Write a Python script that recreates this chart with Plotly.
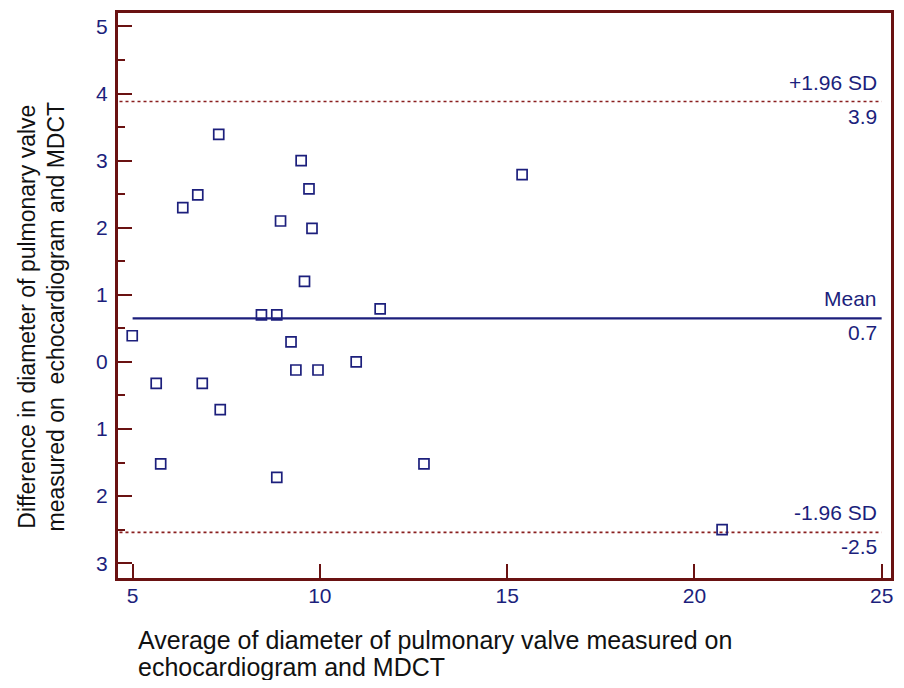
import plotly.graph_objects as go

# Data (Bland-Altman plot)
avg_diameter = [4.99, 5.63, 5.75, 6.34, 6.74, 6.86, 7.30, 7.34, 8.44, 8.85, 8.85, 8.95,
                9.23, 9.36, 9.50, 9.59, 9.71, 9.79, 9.95, 10.97, 11.61, 12.78, 15.40, 20.74]
diff_diameter = [0.39, -0.32, -1.52, 2.30, 2.49, -0.32, 3.39, -0.71, 0.70, 0.70, -1.72, 2.10,
                 0.30, -0.12, 3.00, 1.20, 2.58, 1.99, -0.12, 0.00, 0.79, -1.52, 2.79, -2.50]

mean_diff = 0.65
upper_loa = 3.88
lower_loa = -2.54
line_labels = ["+1.96 SD", "Mean", "-1.96 SD"]
value_labels = ["3.9", "0.7", "-2.5"]

x_ticks = [5, 10, 15, 20, 25]
y_ticks = [-3, -2, -1, 0, 1, 2, 3, 4, 5]
y_ticktext = ["3", "2", "1", "0", "1", "2", "3", "4", "5"]

x_title_lines = ["Average of diameter of pulmonary valve measured on",
                 "echocardiogram and MDCT"]
y_title = "Difference in diameter of pulmonary valve<br>measured on \u00a0echocardiogram and MDCT"

FRAME = "#6a1212"
NAVY = "#1c1f7c"
DASH = "#8a1f1f"
FONT = "Liberation Sans, Arial, sans-serif"

fig = go.Figure()

# limits of agreement (dotted)
for val in [upper_loa, lower_loa]:
    fig.add_trace(go.Scatter(x=[4.65, 25], y=[val, val], mode="lines",
                             line=dict(color=DASH, width=1.6, dash="dot"),
                             hoverinfo="skip", showlegend=False))
# mean line
fig.add_trace(go.Scatter(x=[5, 25], y=[mean_diff, mean_diff], mode="lines",
                         line=dict(color=NAVY, width=2.2),
                         hoverinfo="skip", showlegend=False))
# points
fig.add_trace(go.Scatter(x=avg_diameter, y=diff_diameter, mode="markers",
                         marker=dict(symbol="square-open", size=10, color=NAVY,
                                     line=dict(width=1.7, color=NAVY)),
                         showlegend=False))

for lab, val_txt, yv in zip(line_labels, value_labels, [upper_loa, mean_diff, lower_loa]):
    fig.add_annotation(x=25, y=yv, xref="x", yref="y", text=lab, showarrow=False,
                       xanchor="right", yanchor="bottom", yshift=6, xshift=-3,
                       font=dict(family=FONT, size=21, color=NAVY))
    fig.add_annotation(x=25, y=yv, xref="x", yref="y", text=val_txt, showarrow=False,
                       xanchor="right", yanchor="top", yshift=-1, xshift=-3,
                       font=dict(family=FONT, size=21, color=NAVY))

# axis titles
fig.add_annotation(x=-0.0983, y=0.463, xref="paper", yref="paper", text=y_title,
                   textangle=-90, showarrow=False, xanchor="center", yanchor="middle",
                   align="center", font=dict(family=FONT, size=23, color="#111111"))
for line_txt, yp in zip(x_title_lines, [-0.109, -0.158]):
    fig.add_annotation(x=0.0233, y=yp, xref="paper", yref="paper", text=line_txt,
                       showarrow=False, xanchor="left", yanchor="middle", align="left",
                       font=dict(family=FONT, size=25, color="#111111"))

fig.update_xaxes(range=[4.61, 25.25], tickvals=x_ticks, ticks="inside", ticklen=14,
                 tickwidth=1.6, tickcolor=FRAME, showline=True, linecolor=FRAME,
                 linewidth=3, mirror=True, showgrid=False, zeroline=False,
                 tickfont=dict(family=FONT, size=21, color=NAVY), ticklabelstandoff=-3)
fig.update_yaxes(range=[-3.22, 5.2], tickvals=y_ticks, ticktext=y_ticktext,
                 ticks="inside", ticklen=14, tickwidth=1.6, tickcolor=FRAME,
                 minor=dict(ticks="inside", ticklen=7, tickwidth=1.6, tickcolor=FRAME,
                            dtick=0.5, showgrid=False),
                 showline=True, linecolor=FRAME, linewidth=3, mirror=True,
                 showgrid=False, zeroline=False,
                 tickfont=dict(family=FONT, size=21, color=NAVY), ticklabelstandoff=3)

# page body adds an 8px margin, so the figure is sized to fit the 904x688 window
fig.update_layout(width=888, height=672, margin=dict(l=110, r=5, t=2, b=102),
                  plot_bgcolor="white", paper_bgcolor="white", showlegend=False)

fig.write_html("out.html")
